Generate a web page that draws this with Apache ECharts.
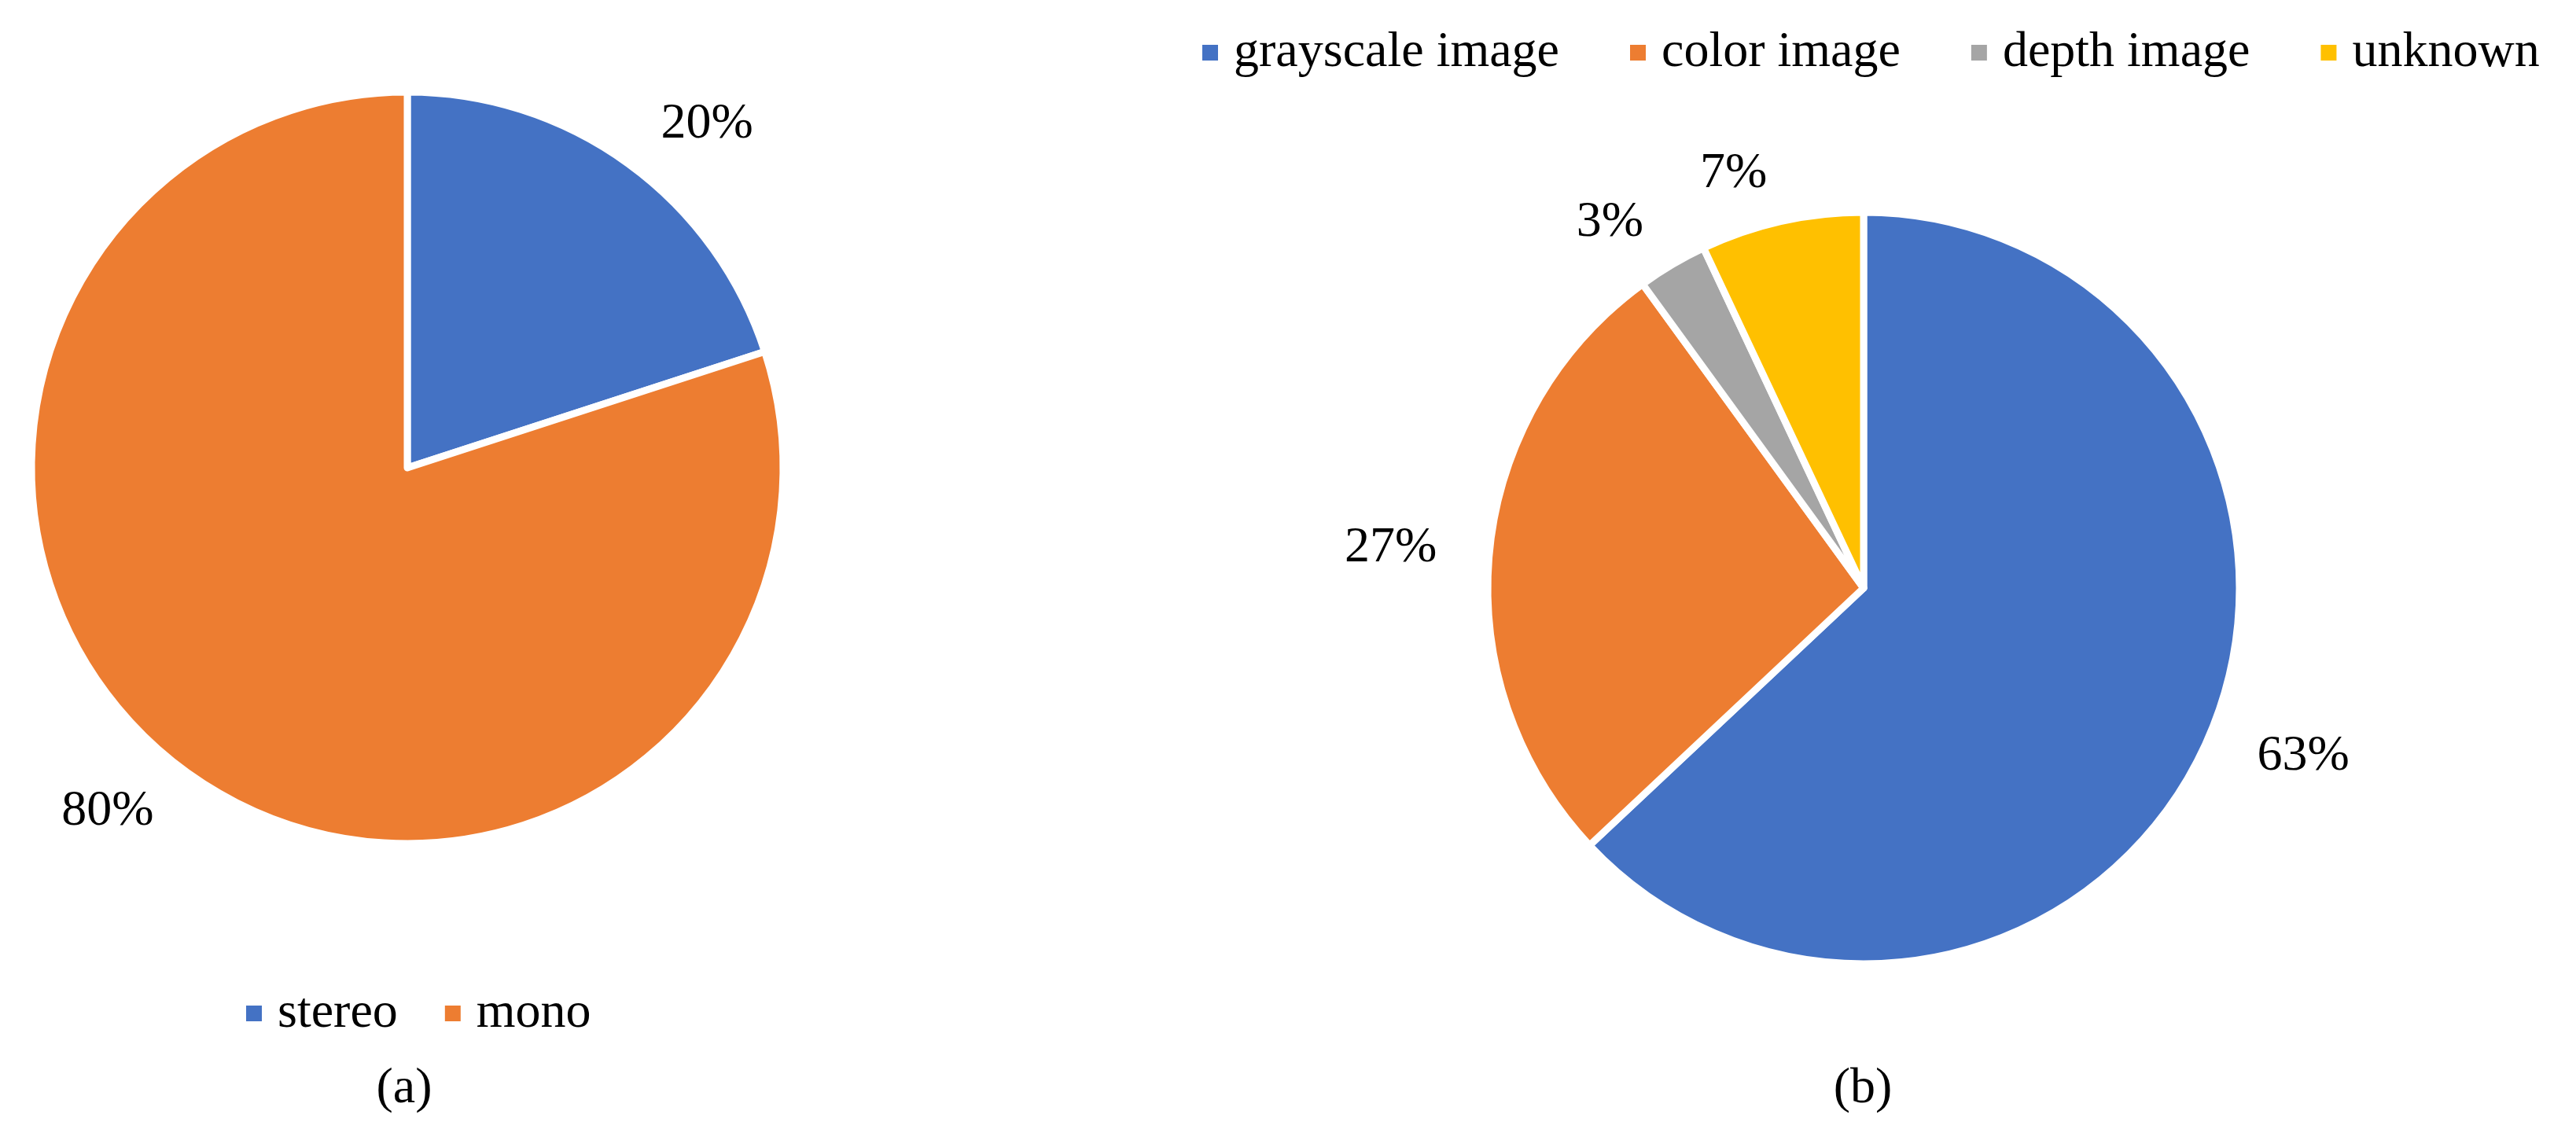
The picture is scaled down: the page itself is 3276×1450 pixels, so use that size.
<!DOCTYPE html>
<html>
<head>
<meta charset="utf-8">
<script src="https://cdn.jsdelivr.net/npm/echarts@6/dist/echarts.min.js"></script>
<style>
  html, body { margin: 0; padding: 0; background: #fff; }
  #chart { width: 3276px; height: 1450px; }
</style>
</head>
<body>
<div id="chart"></div>
<script>
// (a) camera type
const camNames = ['stereo', 'mono']
const camShares = [20, 80]
const camColors = ['#4472C4', '#ED7D31']

// (b) image type
const imgNames = ['grayscale image', 'color image', 'depth image', 'unknown']
const imgShares = [63, 27, 3, 7]
const imgColors = ['#4472C4', '#ED7D31', '#A5A5A5', '#FFC000']

const font = '"Liberation Serif", "Times New Roman", serif'
const chart = echarts.init(document.getElementById('chart'))

const pieBase = {
  type: 'pie',
  radius: 478,
  startAngle: 90,
  clockwise: true,
  avoidLabelOverlap: false,
  itemStyle: { borderColor: '#fff', borderWidth: 9 },
  label: {
    position: 'outside',
    formatter: '{c}%',
    color: '#000',
    fontFamily: font,
    fontSize: 64
  },
  labelLine: { show: false, length: 62, length2: 0 },
  emphasis: { disabled: true },
  animation: false
}

const legendBase = {
  orient: 'horizontal',
  icon: 'rect',
  itemWidth: 22,
  itemHeight: 22,
  textStyle: { color: '#000', fontFamily: font, fontSize: 64, padding: [0, 0, 0, 14] }
}

const option = {
  backgroundColor: '#fff',
  legend: [
    Object.assign({}, legendBase, { data: camNames, left: 306, top: 1252, itemGap: 58 }),
    Object.assign({}, legendBase, { data: imgNames, left: 1522, top: 30, itemGap: 88 })
  ],
  graphic: [
    { type: 'text', x: 514, y: 1385, style: { text: '(a)', font: '64px ' + font, fill: '#000', align: 'center', verticalAlign: 'middle' } },
    { type: 'text', x: 2369, y: 1385, style: { text: '(b)', font: '64px ' + font, fill: '#000', align: 'center', verticalAlign: 'middle' } }
  ],
  series: [
    Object.assign({}, pieBase, {
      name: 'camera',
      center: [518, 595],
      color: camColors,
      data: camNames.map((n, i) => ({ name: n, value: camShares[i] }))
    }),
    Object.assign({}, pieBase, {
      name: 'image',
      center: [2370, 748],
      color: imgColors,
      data: imgNames.map((n, i) => ({ name: n, value: imgShares[i] }))
    })
  ]
}

chart.setOption(option)
</script>
</body>
</html>
